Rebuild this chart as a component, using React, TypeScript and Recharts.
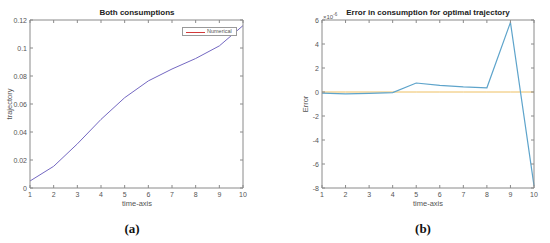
import React from "react";
import { LineChart, Line, XAxis, YAxis } from "recharts";

const timeSteps = [1, 2, 3, 4, 5, 6, 7, 8, 9, 10];
const trajectory = [0.005, 0.0155, 0.0315, 0.049, 0.0645, 0.0765, 0.085, 0.0925, 0.1015, 0.116];
const errorE6 = [-0.1, -0.15, -0.12, -0.05, 0.75, 0.55, 0.42, 0.35, 5.8, -7.8];
const zeroRef = [0, 0, 0, 0, 0, 0, 0, 0, 0, 0];
const leftTicks = [0, 0.02, 0.04, 0.06, 0.08, 0.1, 0.12];
const rightTicks = [-8, -6, -4, -2, 0, 2, 4, 6];

const leftData = timeSteps.map((t, i) => ({ t, v: trajectory[i] }));
const rightData = timeSteps.map((t, i) => ({ t, e: errorE6[i], z: zeroRef[i] }));

const FONT = "'Liberation Sans', Arial, sans-serif";
const AXIS = "#8a8a8a";
const TXT = "#555";

// MATLAB style ticks point inward, so draw them ourselves
const BottomTick = (p: any) => (
  <g>
    <line x1={p.x} x2={p.x} y1={p.y} y2={p.y - 3} stroke={AXIS} />
    <text x={p.x} y={p.y + 9} textAnchor="middle" fontSize={7} fill={TXT} fontFamily={FONT}>
      {p.payload.value}
    </text>
  </g>
);
const TopTick = (p: any) => <line x1={p.x} x2={p.x} y1={p.y} y2={p.y + 3} stroke={AXIS} />;
const LeftTick = (p: any) => (
  <g>
    <line x1={p.x} x2={p.x + 3} y1={p.y} y2={p.y} stroke={AXIS} />
    <text x={p.x - 3} y={p.y + 2.5} textAnchor="end" fontSize={7} fill={TXT} fontFamily={FONT}>
      {p.payload.value}
    </text>
  </g>
);
const RightTick = (p: any) => <line x1={p.x} x2={p.x - 3} y1={p.y} y2={p.y} stroke={AXIS} />;

// bottom/left axes with labels, top/right axes only close the box
function boxAxes(domain: [number, number], ticks: number[], yw: number) {
  return [
    <XAxis key="b" dataKey="t" type="number" domain={[1, 10]} ticks={timeSteps} height={55}
      tickSize={0} tickMargin={0} tickLine={false} axisLine={{ stroke: AXIS }} tick={<BottomTick />} interval={0} />,
    <XAxis key="t" xAxisId="top" orientation="top" dataKey="t" type="number" domain={[1, 10]} ticks={timeSteps}
      height={1} tickSize={0} tickMargin={0} tickLine={false} axisLine={{ stroke: AXIS }} tick={<TopTick />} interval={0} />,
    <YAxis key="l" type="number" domain={domain} ticks={ticks} width={yw} tickSize={0} tickMargin={0}
      tickLine={false} axisLine={{ stroke: AXIS }} tick={<LeftTick />} interval={0} />,
    <YAxis key="r" yAxisId="right" orientation="right" type="number" domain={domain} ticks={ticks} width={1}
      tickSize={0} tickMargin={0} tickLine={false} axisLine={{ stroke: AXIS }} tick={<RightTick />} interval={0} />,
  ];
}

const abs = (x: number, y: number, extra: React.CSSProperties = {}): React.CSSProperties => ({
  position: "absolute", left: x, top: y, fontFamily: FONT, whiteSpace: "nowrap", lineHeight: 1, ...extra,
});

export default function App() {
  return (
    <div style={{ position: "absolute", left: 0, top: 0, width: 550, height: 243, background: "#fff", overflow: "hidden" }}>
      {/* (a) */}
      <div style={{ position: "absolute", left: 0, top: 0 }}>
        <LineChart width={275} height={243} data={leftData} margin={{ top: 19, right: 31, bottom: 0, left: 0 }}>
          {boxAxes([0, 0.12], leftTicks, 30)}
          <Line xAxisId="top" yAxisId="right" dataKey="v" stroke="none" dot={false} isAnimationActive={false} />
          <Line dataKey="v" stroke="#7468c2" strokeWidth={1} dot={false} isAnimationActive={false} />
        </LineChart>
      </div>
      <div style={abs(137, 9, { transform: "translateX(-50%)", fontSize: 8, fontWeight: "bold", color: "#222" })}>Both consumptions</div>
      <div style={abs(137, 200, { transform: "translateX(-50%)", fontSize: 7.5, color: TXT })}>time-axis</div>
      <div style={abs(10, 104, { transform: "translate(-50%,-50%) rotate(-90deg)", fontSize: 7.5, color: TXT })}>trajectory</div>
      <div style={{ position: "absolute", left: 182, top: 27, width: 55, height: 9, border: "1px solid #9a9a9a", boxSizing: "border-box", background: "#fff" }}>
        <div style={{ position: "absolute", left: 3, top: 3.5, width: 19, height: 0, borderTop: "1px solid #d23a3a" }} />
        <div style={abs(24, 1.2, { fontSize: 5.5, color: TXT })}>Numerical</div>
      </div>
      <div style={abs(132, 222, { transform: "translateX(-50%)", fontSize: 13, fontWeight: "bold", color: "#111", fontFamily: "'Liberation Serif', serif" })}>(a)</div>

      {/* (b) */}
      <div style={{ position: "absolute", left: 275, top: 0 }}>
        <LineChart width={275} height={243} data={rightData} margin={{ top: 19, right: 15, bottom: 0, left: 0 }}>
          {boxAxes([-8, 6], rightTicks, 47)}
          <Line xAxisId="top" yAxisId="right" dataKey="e" stroke="none" dot={false} isAnimationActive={false} />
          <Line dataKey="z" stroke="#eec063" strokeWidth={1} dot={false} isAnimationActive={false} />
          <Line dataKey="e" stroke="#5ea4cb" strokeWidth={1.2} dot={false} isAnimationActive={false} />
        </LineChart>
      </div>
      <div style={abs(428, 9, { transform: "translateX(-50%)", fontSize: 8, fontWeight: "bold", color: "#222" })}>Error in consumption for optimal trajectory</div>
      <div style={abs(323, 13, { fontSize: 6, color: TXT })}>
        ×10<sup style={{ fontSize: 4.5 }}>-6</sup>
      </div>
      <div style={abs(428, 200, { transform: "translateX(-50%)", fontSize: 7.5, color: TXT })}>time-axis</div>
      <div style={abs(306, 104, { transform: "translate(-50%,-50%) rotate(-90deg)", fontSize: 7.5, color: TXT })}>Error</div>
      <div style={abs(423, 222, { transform: "translateX(-50%)", fontSize: 13, fontWeight: "bold", color: "#111", fontFamily: "'Liberation Serif', serif" })}>(b)</div>
    </div>
  );
}
